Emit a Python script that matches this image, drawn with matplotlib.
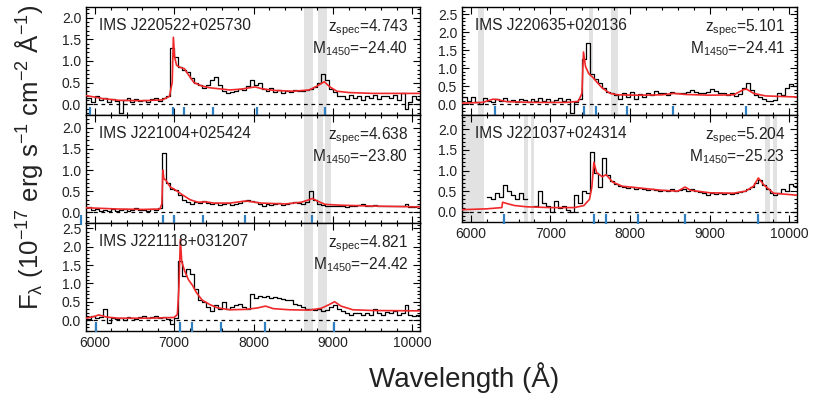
import matplotlib
matplotlib.use("Agg")
import matplotlib.pyplot as plt
import numpy as np
from matplotlib.ticker import MultipleLocator

plt.rcParams['font.family'] = ['Liberation Sans', 'DejaVu Sans']
plt.rcParams['mathtext.fontset'] = 'custom'
plt.rcParams['mathtext.rm'] = 'Liberation Sans'
plt.rcParams['mathtext.it'] = 'Liberation Sans:italic'
plt.rcParams['mathtext.default'] = 'regular'

# ---- data -------------------------------------------------------------
names = ["IMS J220522+025730", "IMS J221004+025424", "IMS J221118+031207",
         "IMS J220635+020136", "IMS J221037+024314"]
z_spec = [4.743, 4.638, 4.821, 5.101, 5.204]
m1450 = ["\u221224.40", "\u221223.80", "\u221224.42", "\u221224.41", "\u221225.23"]

# rest-frame lines marked with blue ticks (OVI, Lya, NV, OI, SiIV, CIV)
rest_lines = [1033.8, 1215.7, 1240.8, 1304.9, 1399.8, 1549.1]

# observed spectra, 50 A bins starting at 5900 A
bin_start = 5900
bin_width = 50
flux_1 = [0.15, 0.05, 0.2, 0.1, 0.15, 0.05, 0.12, 0.08, -0.2, 0.1,
          0.15, 0.05, 0.12, 0.08, 0.1, 0.05, 0.12, 0.15, 0.08, 0.15,
          0.18, 1.3, 1.1, 0.85, 0.8, 0.75, 0.6, 0.48, 0.45, 0.38,
          0.45, 0.55, 0.62, 0.45, 0.3, 0.25, 0.28, 0.3, 0.35, 0.32,
          0.42, 0.55, 0.45, 0.48, 0.35, 0.3, 0.38, 0.28, 0.32, 0.25,
          0.3, 0.28, 0.32, 0.3, 0.3, 0.32, 0.35, 0.4, 0.5, 0.7,
          0.55, 0.35, 0.28, 0.18, 0.2, 0.12, 0.22, 0.15, 0.18, 0.1,
          0.2, 0.15, 0.22, 0.12, 0.18, 0.2, 0.15, 0.22, 0.1, 0.25,
          -0.1, 0.05, 0.2, 0.12]
flux_2 = [0.12, 0.05, 0.08, 0.03, 0.06, 0.04, 0.07, 0.03, 0.05, 0.08,
          0.04, 0.06, 0.1, 0.05, 0.06, 0.04, 0.07, 0.05, 0.1, 1.4,
          0.7, 0.55, 0.52, 0.4, 0.3, 0.25, 0.2, 0.25, 0.22, 0.28,
          0.22, 0.2, 0.22, 0.18, 0.2, 0.22, 0.18, 0.2, 0.22, 0.28,
          0.3, 0.26, 0.25, 0.2, 0.15, 0.2, 0.18, 0.2, 0.22, 0.18,
          0.2, 0.22, 0.25, 0.22, 0.2, 0.25, 0.5, 0.3, 0.2, 0.18,
          0.15, 0.16, 0.14, 0.16, 0.15, 0.13, 0.16, 0.15, 0.17, 0.2,
          0.16, 0.15, 0.17, 0.14, 0.16, 0.15, 0.14, 0.16, 0.15, 0.14,
          0.2, 0.12, 0.13, 0.14]
flux_3 = [0.02, 0.1, 0.05, 0.08, 0.3, -0.08, 0.05, 0.02, 0.06, 0.0,
          0.08, 0.05, 0.04, 0.07, 0.1, 0.05, 0.08, 0.12, 0.05, 0.07,
          0.02, -0.1, 0.05, 1.6, 1.2, 1.38, 1.25, 0.85, 0.55, 0.5,
          0.35, 0.25, 0.4, 0.3, 0.5, 0.3, 0.35, 0.42, 0.45, 0.35,
          0.3, 0.7, 0.6, 0.65, 0.62, 0.65, 0.6, 0.62, 0.6, 0.58,
          0.55, 0.55, 0.45, 0.42, 0.35, 0.3, 0.3, 0.28, 0.3, 0.25,
          0.28, 0.35, 0.42, 0.3, 0.25, 0.2, 0.15, 0.2, 0.18, 0.15,
          0.2, 0.15, 0.3, 0.2, 0.15, 0.22, 0.18, 0.25, 0.15, 0.2,
          0.42, 0.15, 0.1, 0.15]
flux_4 = [0.2, 0.1, 0.2, 0.05, 0.0, 0.18, 0.1, 0.05, 0.15, 0.1,
          0.18, 0.08, 0.12, 0.05, 0.15, 0.12, 0.05, 0.15, 0.1, 0.18,
          0.08, 0.15, 0.05, 0.12, 0.18, 0.1, 0.15, -0.25, 0.05, 0.15,
          1.25, 1.7, 0.85, 0.7, 0.6, 0.45, 0.35, 0.3, 0.25, 0.15,
          0.3, 0.2, 0.35, 0.15, 0.28, 0.2, 0.32, 0.25, 0.38, 0.3,
          0.32, 0.25, 0.35, 0.3, 0.32, 0.3, 0.35, 0.4, 0.35, 0.32,
          0.3, 0.35, 0.42, 0.38, 0.32, 0.3, 0.25, 0.3, 0.22, 0.28,
          0.45, 0.6, 0.4, 0.25, 0.2, 0.15, 0.1, 0.08, 0.12, 0.3,
          0.25, 0.45, 0.55, 0.5]
nan = float('nan')
flux_5 = [nan, nan, nan, nan, nan, nan, 0.35, 0.32, 0.45, 0.35,
          0.65, 0.5, 0.4, 0.3, 0.45, 0.3, nan, nan, 0.15, 0.5,
          0.2, 0.15, 0.0, 0.25, 0.1, 0.15, 0.05, 0.0, 0.4, 0.2,
          0.5, 0.45, 1.45, 0.95, 0.6, 1.3, 0.9, 0.75, 0.68, 0.62,
          0.6, 0.58, 0.6, 0.55, 0.57, 0.55, 0.52, 0.55, 0.52, 0.5,
          0.53, 0.5, 0.55, 0.5, 0.52, 0.55, 0.5, 0.55, 0.5, 0.48,
          0.45, 0.4, 0.45, 0.42, 0.45, 0.42, 0.45, 0.43, 0.45, 0.48,
          0.5, 0.55, 0.6, 0.7, 0.78, 0.65, 0.55, 0.45, 0.4, 0.45,
          0.55, 0.5, 0.68, 0.62]

# model spectra (red), wavelength / flux knots
model_w_1 = [5890, 6100, 6300, 6600, 6850, 6940, 6975, 6990, 7005, 7030, 7080,
             7130, 7180, 7250, 7350, 7450, 7550, 7700, 7850, 7950, 8020, 8100,
             8250, 8500, 8700, 8800, 8890, 8960, 9050, 9200, 9500, 10100]
model_f_1 = [0.2, 0.13, 0.09, 0.08, 0.1, 0.18, 0.5, 1.55, 1.1, 0.9, 0.85,
             0.82, 0.68, 0.5, 0.42, 0.38, 0.36, 0.33, 0.35, 0.38, 0.4, 0.36,
             0.32, 0.3, 0.33, 0.42, 0.52, 0.4, 0.3, 0.27, 0.25, 0.25]
model_w_2 = [5890, 6300, 6600, 6820, 6845, 6858, 6870, 6900, 6950, 7000, 7100,
             7200, 7300, 7400, 7500, 7700, 7900, 8100, 8400, 8600, 8700, 8740,
             8800, 8900, 9100, 9500, 10100]
model_f_2 = [0.11, 0.08, 0.07, 0.08, 0.2, 1.0, 0.8, 0.75, 0.6, 0.55, 0.42,
             0.3, 0.24, 0.25, 0.22, 0.22, 0.27, 0.22, 0.2, 0.24, 0.3, 0.33,
             0.27, 0.19, 0.17, 0.15, 0.13]
model_w_3 = [5890, 6000, 6050, 6150, 6300, 6700, 7000, 7040, 7060, 7078, 7095,
             7130, 7180, 7230, 7280, 7350, 7450, 7550, 7700, 7900, 8050, 8150,
             8250, 8450, 8700, 8850, 8950, 9020, 9100, 9250, 9500, 10100]
model_f_3 = [0.05, 0.1, 0.14, 0.08, 0.05, 0.05, 0.07, 0.15, 0.9, 2.2, 1.6,
             1.35, 1.1, 0.95, 0.75, 0.55, 0.42, 0.33, 0.28, 0.29, 0.33, 0.38,
             0.31, 0.28, 0.27, 0.32, 0.42, 0.5, 0.38, 0.28, 0.26, 0.25]
model_w_4 = [5900, 6150, 6280, 6330, 6450, 6800, 7200, 7350, 7395, 7415, 7440,
             7480, 7530, 7580, 7650, 7750, 7850, 8100, 8400, 8550, 8700, 9000,
             9300, 9420, 9460, 9550, 9700, 10100]
model_f_4 = [0.03, 0.05, 0.14, 0.13, 0.07, 0.05, 0.05, 0.08, 0.3, 1.45, 1.05,
             0.85, 0.75, 0.62, 0.45, 0.3, 0.26, 0.25, 0.26, 0.3, 0.27, 0.25,
             0.26, 0.4, 0.42, 0.3, 0.23, 0.2]
model_w_5 = [5900, 6200, 6390, 6400, 6450, 6550, 6700, 7000, 7300, 7420, 7490,
             7520, 7545, 7580, 7650, 7700, 7780, 7900, 8100, 8400, 8600, 8690,
             8760, 9000, 9300, 9450, 9550, 9610, 9680, 9800, 10100]
model_f_5 = [0.05, 0.07, 0.1, 0.23, 0.2, 0.15, 0.12, 0.1, 0.1, 0.15, 0.3,
             0.6, 1.2, 0.95, 0.85, 0.9, 0.72, 0.62, 0.58, 0.52, 0.5, 0.6,
             0.52, 0.46, 0.45, 0.5, 0.62, 0.82, 0.65, 0.45, 0.4]

# masked sky regions (grey bands)
sky_1 = [(8640, 8745), (8805, 8920)]
sky_2 = [(8640, 8745), (8795, 8880), (8905, 8970)]
sky_3 = [(8640, 8745), (8805, 8920)]
sky_4 = [(6090, 6165), (7490, 7540), (7765, 7845)]
sky_5 = [(5880, 6165), (6665, 6715), (6750, 6790), (9695, 9760), (9795, 9845)]

ylims = [(-0.25, 2.25), (-0.25, 2.3), (-0.3, 2.65), (-0.3, 2.7), (-0.25, 2.35)]

fluxes = [flux_1, flux_2, flux_3, flux_4, flux_5]
models = [(model_w_1, model_f_1), (model_w_2, model_f_2), (model_w_3, model_f_3),
          (model_w_4, model_f_4), (model_w_5, model_f_5)]
skies = [sky_1, sky_2, sky_3, sky_4, sky_5]

# ---- figure -----------------------------------------------------------
fig = plt.figure(figsize=(8.15, 3.93), dpi=100)
W, H = 815.0, 393.0
# (left px, top px, right px, bottom px)
boxes = [(86, 7, 420, 115), (86, 115, 420, 223), (86, 223, 420, 331),
         (462, 7, 797, 115), (462, 115, 797, 222)]
show_x = [False, False, True, False, True]

txt_col = '#222222'
for i in range(5):
    l, t, r, b = boxes[i]
    ax = fig.add_axes([l / W, 1 - b / H, (r - l) / W, (b - t) / H])
    ax.set_xlim(5890, 10095)
    ax.set_ylim(*ylims[i])
    for a, c in skies[i]:
        ax.axvspan(a, c, color='#e2e2e2', lw=0, zorder=0)
    ax.axhline(0, color='k', ls=(0, (3, 3)), lw=0.9, zorder=1)

    f = fluxes[i]
    edges = bin_start + bin_width * np.arange(len(f) + 1)
    ax.plot(edges, list(f) + [f[-1]], drawstyle='steps-post', color='k',
            lw=0.9, zorder=2)
    mw, mf = models[i]
    ax.plot(mw, mf, color='#f0282a', lw=1.2, zorder=3)

    ymin = ylims[i][0]
    obs = [lam * (1 + z_spec[i]) for lam in rest_lines]
    ax.vlines(obs, ymin - 0.04, -0.06, color='#2f7fc1', lw=1.6, zorder=4,
              clip_on=False)

    ax.text(0.04, 0.9, names[i], transform=ax.transAxes, ha='left', va='top',
            fontsize=11.2, color=txt_col)
    ax.text(0.965, 0.905, "z$_{spec}$=%.3f" % z_spec[i], transform=ax.transAxes,
            ha='right', va='top', fontsize=11.2, color=txt_col)
    ax.text(0.965, 0.70, "M$_{1450}$=" + m1450[i], transform=ax.transAxes,
            ha='right', va='top', fontsize=11.2, color=txt_col)

    ax.xaxis.set_major_locator(MultipleLocator(1000))
    ax.xaxis.set_minor_locator(MultipleLocator(200))
    ax.yaxis.set_major_locator(MultipleLocator(0.5))
    ax.yaxis.set_minor_locator(MultipleLocator(0.1))
    ax.tick_params(which='both', direction='in', top=True, right=True,
                   labelsize=10, labelcolor=txt_col, width=0.8)
    ax.tick_params(which='major', length=5)
    ax.tick_params(which='minor', length=2.5)
    ax.set_yticks([v for v in np.arange(0, 3.0, 0.5) if v <= ylims[i][1]])
    if not show_x[i]:
        ax.tick_params(labelbottom=False)
    for s in ax.spines.values():
        s.set_linewidth(1.0)

fig.text(0.035, 0.6, r"F$_\lambda$ (10$^{-17}$ erg s$^{-1}$ cm$^{-2}$ Å$^{-1}$)",
         rotation=90, ha='center', va='center', fontsize=18.5, color=txt_col)
fig.text(0.569, 0.04, "Wavelength (Å)", ha='center', va='center', fontsize=20,
         color=txt_col)

fig.savefig("out.png", dpi=100)
